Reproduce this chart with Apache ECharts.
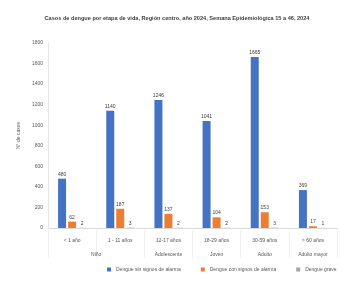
<!DOCTYPE html>
<html>
<head>
<meta charset="utf-8">
<script src="https://cdn.jsdelivr.net/npm/echarts@6/dist/echarts.min.js"></script>
<style>
  html, body { margin: 0; padding: 0; background: #fff; }
  #chart { width: 354px; height: 283px; }
</style>
</head>
<body>
<div id="chart"></div>
<script>
// etapas de vida (rango de edad) y grupos
const ageRanges = ['< 1 año', '1 - 11 años', '12-17 años', '18-29 años', '30-59 años', '> 60 años']
const lifeStages = ['', '', 'Niño', '', '', 'Adolescente', '', 'Joven', '', 'Adulto', '', 'Adulto mayor', '']

const seriesNames = ['Dengue sin signos de alarma', 'Dengue con signos de alarma', 'Dengue grave']
const sinSignos = [480, 1140, 1246, 1041, 1665, 369]
const conSignos = [62, 187, 137, 104, 153, 17]
const grave = [2, 3, 2, 2, 3, 1]

const yTicks = { min: 0, max: 1800, interval: 200 }

const colors = ['#4472C4', '#ED7D31', '#A5A5A5']
const font = 'Liberation Sans'

const chart = echarts.init(document.getElementById('chart'))

const barLabel = {
  show: true,
  position: 'top',
  distance: 2,
  fontSize: 5,
  fontFamily: font,
  color: '#404040'
}

const option = {
  animation: false,
  textStyle: { fontFamily: font },
  title: {
    text: 'Casos de dengue por etapa de vida, Región centro, año 2024, Semana Epidemiológica 15 a 46, 2024',
    left: 'center',
    top: 10,
    textStyle: { fontSize: 5.6, fontWeight: 'bold', color: '#404040', fontFamily: font }
  },
  legend: {
    data: seriesNames,
    bottom: 6,
    left: 102,
    itemWidth: 4,
    itemHeight: 4,
    itemGap: 20,
    icon: 'rect',
    textStyle: { fontSize: 5, color: '#595959', fontFamily: font }
  },
  grid: { left: 48, right: 17, top: 43, bottom: 55 },
  xAxis: [
    {
      type: 'category',
      data: ageRanges,
      position: 'bottom',
      axisLine: { lineStyle: { color: '#d9d9d9' } },
      axisTick: { show: true, length: 30, lineStyle: { color: '#efefef' } },
      axisLabel: { fontSize: 5, color: '#595959', margin: 10, interval: 0 }
    },
    {
      type: 'category',
      data: lifeStages,
      position: 'bottom',
      boundaryGap: false,
      axisLine: { show: false },
      axisTick: { show: false },
      axisLabel: { fontSize: 5, color: '#595959', margin: 24, interval: 0 }
    }
  ],
  yAxis: {
    type: 'value',
    min: yTicks.min,
    max: yTicks.max,
    interval: yTicks.interval,
    name: 'N° de casos',
    nameLocation: 'middle',
    nameGap: 24,
    nameTextStyle: { fontSize: 5, color: '#595959' },
    axisLine: { show: true, lineStyle: { color: '#e6e6e6' } },
    axisTick: { show: false },
    splitLine: { show: false },
    axisLabel: { fontSize: 5, color: '#595959', margin: 5, formatter: v => String(v) }
  },
  series: [
    { name: seriesNames[0], type: 'bar', data: sinSignos, barWidth: 8, barGap: '25%', itemStyle: { color: colors[0] }, label: barLabel },
    { name: seriesNames[1], type: 'bar', data: conSignos, barWidth: 8, itemStyle: { color: colors[1] }, label: barLabel },
    { name: seriesNames[2], type: 'bar', data: grave, barWidth: 8, itemStyle: { color: colors[2] }, label: barLabel }
  ]
}

chart.setOption(option)
</script>
</body>
</html>
